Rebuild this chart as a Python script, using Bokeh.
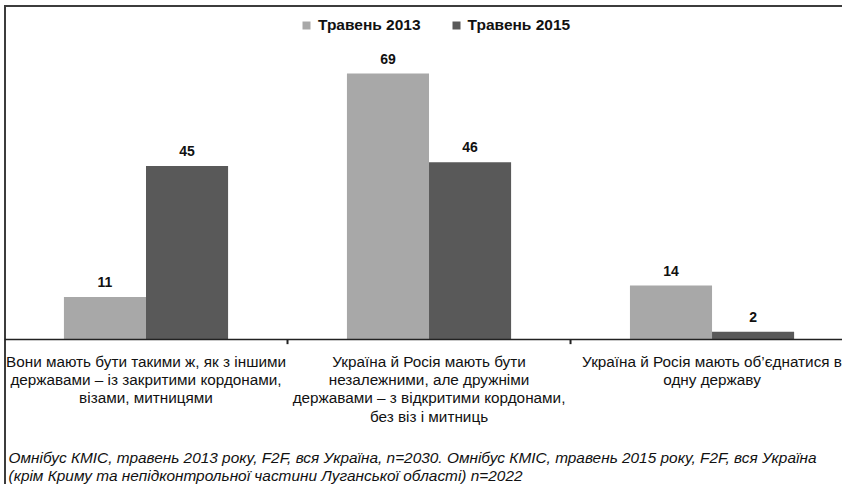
from bokeh.plotting import figure
from bokeh.models import ColumnDataSource, Range1d, Legend, LegendItem, Span, Label
from bokeh.transform import dodge
from bokeh.core.properties import value
from bokeh.embed import file_html
from bokeh.resources import INLINE

categories = [
    "Вони мають бути такими ж, як з іншими\nдержавами – із закритими кордонами,\nвізами, митницями",
    "Україна й Росія мають бути\nнезалежними, але дружніми\nдержавами – з відкритими кордонами,\nбез віз і митниць",
    "Україна й Росія мають об’єднатися в\nодну державу",
]
series_names = ["Травень 2013", "Травень 2015"]
series_2013 = [11, 69, 14]
series_2015 = [45, 46, 2]
footnote_lines = [
    "Омнібус КМІС, травень 2013 року, F2F, вся Україна, n=2030. Омнібус КМІС, травень 2015 року, F2F, вся Україна",
    "(крім Криму та непідконтрольної частини Луганської області) n=2022",
]

FONT = "Liberation Sans"
LIGHT = "#a8a8a8"
DARK = "#595959"

centers = [i + 0.5 for i in range(len(categories))]

src = ColumnDataSource(dict(
    xc=centers,
    cat=categories,
    zero=[0] * len(categories),
    y13=series_2013,
    y15=series_2015,
    t13=[str(v) for v in series_2013],
    t15=[str(v) for v in series_2015],
))
bnd = ColumnDataSource(dict(xc=centers[:-1]))

p = figure(
    x_range=Range1d(0, 2.961),
    y_range=Range1d(-37.61, 87.94),
    width=842, height=484,
    output_backend="svg", toolbar_location=None,
    x_axis_location=None, y_axis_location=None,
    min_border_left=4, min_border_right=0, min_border_top=0, min_border_bottom=0,
)
p.border_fill_color = None
p.background_fill_color = None
p.styles = {"box-shadow": "inset 4px 5px 0 0 #ffffff, inset 6px 7px 0 0 #3c3c3c"}
p.outline_line_color = None
p.xgrid.grid_line_color = None
p.ygrid.grid_line_color = None

r13 = p.vbar(x=dodge("xc", -0.145), top="y13", width=0.29, source=src,
             fill_color=LIGHT, line_color=None)
r15 = p.vbar(x=dodge("xc", 0.145), top="y15", width=0.29, source=src,
             fill_color=DARK, line_color=None)

for xoff, col in ((-0.145, "y13"), (0.145, "y15")):
    p.text(x=dodge("xc", xoff), y=col, text="t" + col[1:], source=src,
           text_align="center", text_baseline="bottom", y_offset=-10,
           text_font=value(FONT), text_font_style="bold", text_font_size="14px", text_color="#111111")

# category axis: baseline, boundary ticks and category labels
p.add_layout(Span(location=0, dimension="width", line_color="#222222", line_width=1.5))
p.segment(x0=dodge("xc", 0.5), x1=dodge("xc", 0.5),
          y0=0, y1=-1.2, source=bnd, line_color="#222222", line_width=2)
p.text(x="xc", y="zero", text="cat", source=src, text_align="center", text_baseline="top",
       y_offset=13, text_font=value(FONT), text_font_size="15.3px", text_color="#111111",
       text_line_height=1.08)

legend = Legend(
    items=[LegendItem(label=series_names[0], renderers=[r13]),
           LegendItem(label=series_names[1], renderers=[r15])],
    orientation="horizontal", location=(297, 450),
    border_line_color=None, background_fill_alpha=0,
    label_text_font=FONT, label_text_font_style="bold", label_text_font_size="15.5px",
    label_text_color="#111111",
    glyph_width=10, glyph_height=10, spacing=30, label_standoff=7, margin=0, padding=4,
)
p.add_layout(legend)

for line, yy in zip(footnote_lines, (27, 9)):
    p.add_layout(Label(x=4, y=yy, x_units="screen", y_units="screen", text=line,
                       text_font=FONT, text_font_style="italic", text_font_size="15.4px",
                       text_color="#111111", text_align="left", text_baseline="middle"))

open("out.html", "w").write(file_html(p, INLINE))
